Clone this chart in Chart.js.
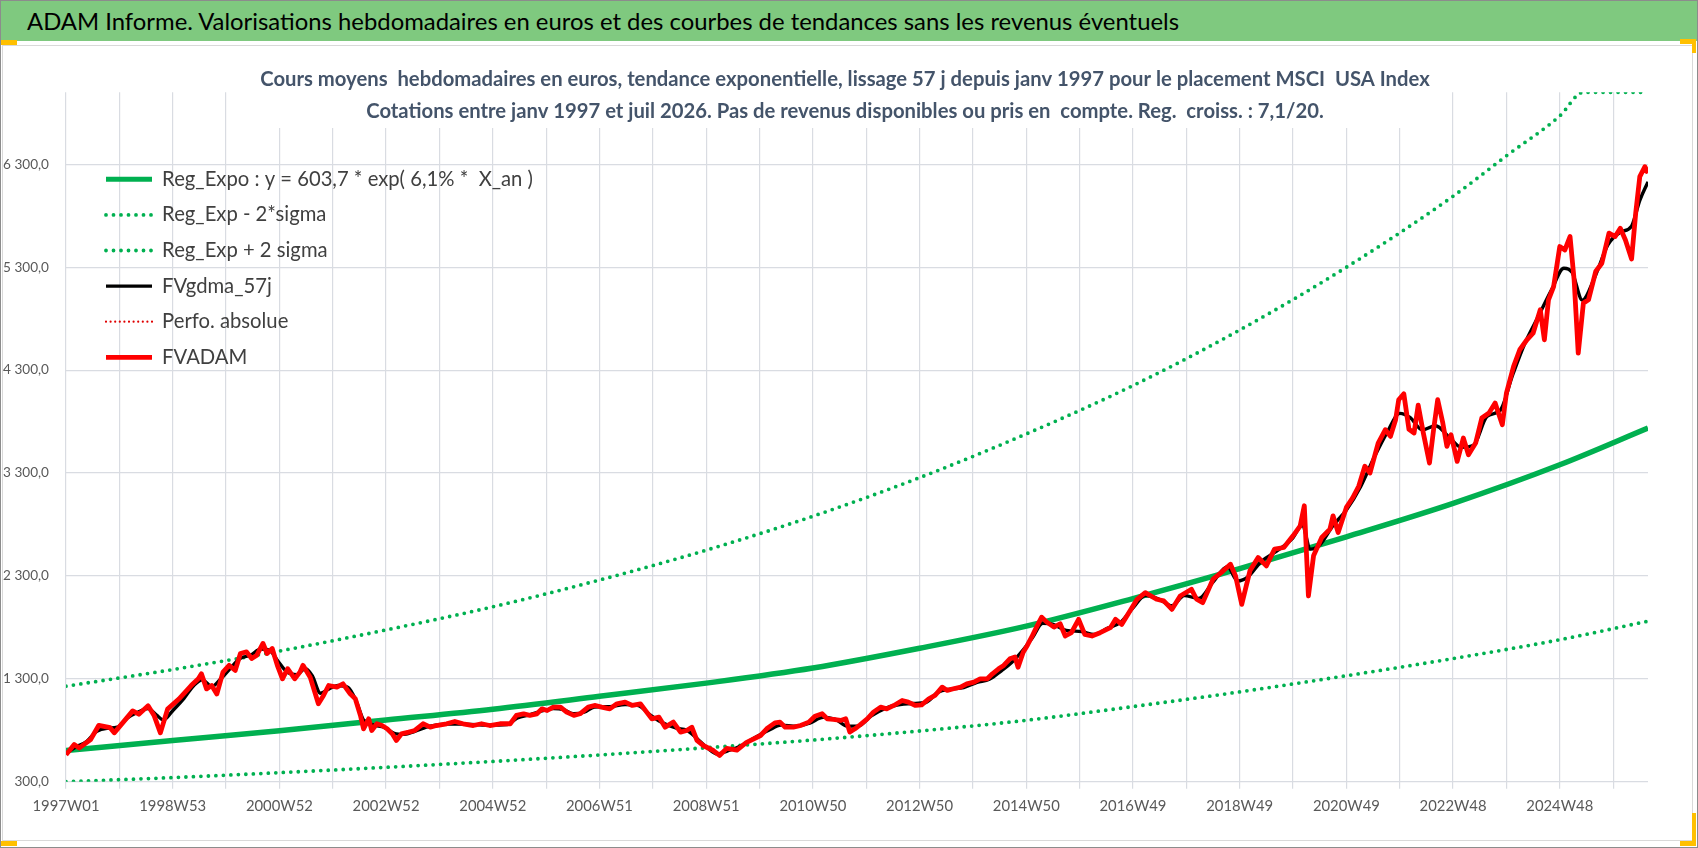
<!DOCTYPE html>
<html lang="fr">
<head>
<meta charset="utf-8">
<script src="https://cdn.jsdelivr.net/npm/chart.js@4.4.1/dist/chart.umd.min.js"></script>
<style>
html,body{margin:0;padding:0;background:#fff;}
#page{position:relative;width:1698px;height:848px;overflow:hidden;background:#fff;}
#outer{position:absolute;left:0;top:0;width:1696px;height:846px;border:1px solid #8c8c8c;pointer-events:none;}
#bar{position:absolute;left:1px;top:1px;width:1696px;height:40px;background:#7FC97F;}
#bartext{position:absolute;left:26px;top:0;height:40px;line-height:40px;font-family:Lato,"Open Sans",sans-serif;color:#000;white-space:pre;}
#chartframe{position:absolute;left:2px;top:45px;width:1689px;height:794px;border:1px solid #D9D9D9;}
canvas{position:absolute;left:0;top:0;}
.h{position:absolute;background:#FFC000;}
</style>
</head>
<body>
<div id="page">
  <div id="chartframe"></div>
  <canvas id="c" width="1698" height="848"></canvas>
  <div id="bar"><div id="bartext"></div></div>
  <div id="outer"></div>
  <div class="h" style="left:1px;top:40px;width:16px;height:5px;"></div>
  <div class="h" style="left:1680px;top:39px;width:16px;height:5px;"></div>
  <div class="h" style="left:1692px;top:39px;width:4px;height:14px;"></div>
  <div class="h" style="left:1px;top:841px;width:16px;height:5px;"></div>
  <div class="h" style="left:1680px;top:841px;width:16px;height:5px;"></div>
  <div class="h" style="left:1692px;top:813px;width:4px;height:33px;"></div>
</div>
<script>
// ---------------- DATA ----------------
const mainTitle = "ADAM Informe. Valorisations hebdomadaires en euros et des courbes de tendances sans les revenus éventuels";
const subtitleLines = [
  "Cours moyens  hebdomadaires en euros, tendance exponentielle, lissage 57 j depuis janv 1997 pour le placement MSCI  USA Index",
  "Cotations entre janv 1997 et juil 2026. Pas de revenus disponibles ou pris en  compte. Reg.  croiss. : 7,1/20."
];
const seriesNames = [
  "Reg_Expo : y = 603,7 * exp( 6,1% *  X_an )",
  "Reg_Exp - 2*sigma",
  "Reg_Exp + 2 sigma",
  "FVgdma_57j",
  "Perfo. absolue",
  "FVADAM"
];
// x axis: week index since 1997W01
const xTickLabels = ["1997W01","1998W53","2000W52","2002W52","2004W52","2006W51","2008W51","2010W50",
  "2012W50","2014W50","2016W49","2018W49","2020W49","2022W48","2024W48"];
const yTickValues = [300,1300,2300,3300,4300,5300,6300];
const yTickLabels = ["300,0","1 300,0","2 300,0","3 300,0","4 300,0","5 300,0","6 300,0"];

const trendWeeks = [0,104,208,312,416,520,624,728,832,936,1040,1144,1248,1352,1456,1542];
const regExpo = [603,700,795,900,1005,1130,1258,1405,1597,1812,2080,2370,2680,3005,3380,3737];
const regExpMinus2Sigma = [300,340,388,440,497,560,630,705,793,897,1030,1173,1330,1497,1680,1860];
const sigmaPlusWeeks = [0,104,208,312,416,520,624,728,832,936,1040,1144,1248,1352,1405,1456,1479,1542];
const regExpPlus2Sigma = [1228,1390,1570,1775,2000,2260,2550,2880,3255,3680,4150,4690,5300,5990,6390,6770,7000,7000];

const fvgdmaWeeks = [0,10,20,30,40,50,60,70,80,88,95,104,115,125,133,142,150,160,170,180,190,198,206,215,225,233,240,248,256,265,275,283,290,300,310,320,330,340,355,370,390,410,430,440,452,465,475,485,495,505,515,530,545,558,568,580,595,605,615,625,635,645,658,670,685,697,712,725,738,750,762,772,785,798,810,825,838,850,862,875,888,900,912,922,932,942,952,962,975,990,1002,1015,1028,1040,1052,1065,1078,1090,1104,1118,1132,1142,1152,1165,1180,1195,1205,1213,1222,1235,1248,1262,1275,1288,1300,1310,1322,1335,1348,1360,1372,1385,1398,1410,1422,1435,1448,1460,1468,1478,1490,1503,1515,1526,1534,1542];
const fvgdma = [575,640,690,790,820,830,920,975,1010,950,900,990,1110,1240,1290,1225,1290,1400,1500,1530,1590,1580,1480,1370,1340,1400,1330,1160,1200,1235,1215,1080,900,850,830,770,760,790,840,860,860,850,855,920,950,990,1010,1000,960,975,1025,1030,1050,1040,960,880,820,800,720,630,570,600,650,720,800,850,840,870,925,905,840,840,940,1010,1045,1060,1070,1170,1200,1215,1265,1295,1380,1460,1570,1700,1840,1830,1770,1760,1730,1790,1850,1990,2110,2075,2010,2110,2080,2240,2390,2250,2290,2440,2540,2660,2790,2560,2600,2790,2940,3170,3450,3700,3880,3840,3720,3760,3650,3550,3570,3850,3910,4250,4560,4820,5080,5290,5250,4980,5200,5520,5640,5700,5950,6130];

const perfoWeeks = [];
const perfoAbsolue = [];

const fvadamWeeks = [0,8,13,24,32,43,47,54,65,71,80,86,92,99,110,122,129,132,137,142,147,153,159,165,170,176,181,186,192,196,201,206,211,216,223,228,231,238,246,251,256,264,270,277,282,287,290,295,298,303,308,313,318,322,327,334,340,348,355,361,371,379,387,397,405,413,423,433,439,446,452,459,464,469,475,482,488,495,501,509,516,522,530,537,545,552,560,566,571,578,584,592,599,605,610,615,621,631,637,644,654,663,677,683,691,696,701,709,716,724,730,737,742,748,755,760,764,769,774,781,787,794,800,807,815,821,828,834,841,847,854,859,865,872,878,885,891,898,903,909,914,920,925,928,933,937,942,946,951,956,963,969,974,980,987,993,1000,1008,1018,1023,1029,1036,1044,1052,1063,1070,1078,1086,1097,1102,1108,1118,1126,1135,1140,1146,1154,1162,1170,1178,1187,1196,1203,1207,1211,1216,1224,1232,1235,1240,1248,1254,1260,1266,1271,1279,1286,1291,1296,1299,1304,1309,1314,1318,1323,1329,1333,1337,1342,1346,1350,1356,1362,1367,1374,1380,1387,1393,1400,1404,1411,1417,1424,1430,1437,1441,1445,1450,1456,1461,1466,1470,1474,1479,1484,1491,1497,1504,1510,1515,1520,1526,1530,1534,1539,1542];
const fvadam = [562,661,628,710,848,825,775,857,988,956,1038,940,775,1005,1103,1234,1300,1349,1202,1234,1152,1365,1431,1382,1546,1562,1497,1530,1644,1546,1595,1431,1300,1398,1300,1365,1431,1316,1057,1138,1235,1219,1251,1154,1106,944,814,911,798,863,846,814,765,701,765,782,798,863,830,846,863,885,863,846,863,846,863,863,944,960,944,960,1008,992,1025,1025,976,944,960,1025,1041,1025,1008,1057,1073,1041,1057,976,911,927,830,879,782,798,830,701,652,603,555,624,608,679,749,814,872,879,830,830,846,879,937,960,911,905,895,911,782,814,853,911,976,1025,1008,1041,1089,1073,1041,1047,1106,1138,1219,1187,1203,1219,1251,1268,1300,1300,1349,1397,1430,1494,1511,1413,1559,1624,1721,1802,1899,1851,1802,1835,1716,1748,1878,1732,1716,1748,1797,1878,1829,1943,2073,2138,2073,2057,1975,2105,2170,2073,2040,2268,2332,2414,2300,2024,2349,2479,2397,2560,2576,2690,2787,2982,2105,2495,2673,2755,2884,2722,2966,3057,3171,3365,3300,3591,3721,3656,3818,4012,4070,3725,3689,3960,3689,3397,3721,4012,3785,3559,3672,3413,3640,3478,3591,3834,3883,3980,3769,4077,4336,4498,4595,4659,4886,4595,4983,5112,5501,5468,5598,5177,4465,4951,4983,5258,5339,5631,5598,5679,5565,5380,5824,6180,6277,6213];

// ---------------- LAYOUT HELPERS ----------------
const FAMILY = "Lato, 'Open Sans', sans-serif";
function fitSize(text, weight, target, lo, hi) {
  const c = document.createElement('canvas').getContext('2d');
  c.font = weight + " 100px " + FAMILY;
  const s = 100 * target / c.measureText(text).width;
  return Math.max(lo, Math.min(hi, s));
}
const titleBarSize = fitSize(mainTitle, 400, 1153, 18, 30);
const subSize = fitSize(subtitleLines[0], 700, 1170, 15, 24);
const legendSize = fitSize(seriesNames[0], 400, 371, 15, 24);
const yTickSize = fitSize("6 300,0", 400, 46, 11, 19);
const xTickSize = fitSize("2024W48", 400, 67, 11, 19);

const bt = document.getElementById('bartext');
bt.textContent = mainTitle;
bt.style.fontSize = titleBarSize + 'px';

const CHART_TOP = 92.3, CHART_BOTTOM = 781.7, CHART_LEFT = 66, CHART_RIGHT = 1648;
const LEGEND_X = 106, LEGEND_ROW1 = 179.3, LEGEND_STEP = 35.6;
const gridWeeks = [];
for (let w = 0; w <= 1508; w += 52) gridWeeks.push(w);

const pts = (xs, ys) => xs.map((x, i) => ({x: x, y: ys[i]}));
const GRID = '#D9DCE2';

const tweaks = {
  id: 'tweaks',
  afterLayout(chart) {
    const lg = chart.legend;
    const pad = LEGEND_STEP - legendSize;
    lg.left = LEGEND_X - pad;
    lg.top = LEGEND_ROW1 - legendSize / 2 - pad;
    lg.right = chart.chartArea.right;
    lg.bottom = chart.chartArea.bottom;
    lg.width = lg.right - lg.left;
    lg.height = lg.bottom - lg.top;
    const tb = chart.titleBlock;
    tb.left = 0; tb.right = 1690; tb.width = 1690;
  },
  beforeDatasetsDraw(chart) {
    const ctx = chart.ctx;
    ctx.save();
    ctx.fillStyle = '#ffffff';
    ctx.fillRect(255, 58, 1185, 70);
    ctx.restore();
    chart.titleBlock.draw();
  }
};

function legendItems(chart) {
  const items = Chart.defaults.plugins.legend.labels.generateLabels(chart);
  items.forEach(it => {
    const ds = chart.data.datasets[it.datasetIndex];
    it.lineDash = ds.borderDash || [];
    it.lineCap = ds.borderCapStyle || 'butt';
    it.lineWidth = ds.legendWidth || ds.borderWidth;
    it.strokeStyle = ds.borderColor;
  });
  return items;
}

new Chart(document.getElementById('c'), {
  type: 'line',
  data: {
    datasets: [
      {label: seriesNames[0], data: pts(trendWeeks, regExpo), borderColor: '#00B050', backgroundColor: '#00B050',
        borderWidth: 5.5, legendWidth: 5, cubicInterpolationMode: 'monotone', order: 3},
      {label: seriesNames[1], data: pts(trendWeeks, regExpMinus2Sigma), borderColor: '#00B050', backgroundColor: '#00B050',
        borderWidth: 3.8, borderDash: [0, 7.5], borderCapStyle: 'round', cubicInterpolationMode: 'monotone', order: 4},
      {label: seriesNames[2], data: pts(sigmaPlusWeeks, regExpPlus2Sigma), borderColor: '#00B050', backgroundColor: '#00B050',
        borderWidth: 3.8, borderDash: [0, 7.5], borderCapStyle: 'round', cubicInterpolationMode: 'monotone', order: 4},
      {label: seriesNames[3], data: pts(fvgdmaWeeks, fvgdma), borderColor: '#000000', backgroundColor: '#000000',
        borderWidth: 3.4, cubicInterpolationMode: 'monotone', order: 2},
      {label: seriesNames[4], data: pts(perfoWeeks, perfoAbsolue), borderColor: '#E00000', backgroundColor: '#E00000',
        borderWidth: 2.2, borderDash: [0, 4.6], borderCapStyle: 'round', order: 1},
      {label: seriesNames[5], data: pts(fvadamWeeks, fvadam), borderColor: '#FF0000', backgroundColor: '#FF0000',
        borderWidth: 4.8, tension: 0, borderJoinStyle: 'round', order: 0}
    ]
  },
  options: {
    responsive: false,
    animation: false,
    events: [],
    layout: {padding: {top: 0, left: 0, right: 1698 - CHART_RIGHT, bottom: 0}},
    elements: {point: {radius: 0, hoverRadius: 0}},
    plugins: {
      tooltip: {enabled: false},
      title: {
        display: true, text: subtitleLines, color: '#44546A',
        font: {family: FAMILY, weight: 'bold', size: subSize, lineHeight: '32px'},
        padding: {top: 63, bottom: CHART_TOP - 64 - 63}
      },
      legend: {
        position: 'chartArea', align: 'start',
        labels: {
          usePointStyle: true, pointStyle: 'line', pointStyleWidth: 46,
          font: {family: FAMILY, size: legendSize}, color: '#404040',
          padding: LEGEND_STEP - legendSize,
          generateLabels: legendItems,
          sort: (a, b) => a.datasetIndex - b.datasetIndex
        }
      }
    },
    scales: {
      x: {
        type: 'linear', min: 0, max: 1542,
        afterBuildTicks: s => { s.ticks = gridWeeks.map(v => ({value: v})); },
        afterFit: s => { s.height = 848 - CHART_BOTTOM; },
        ticks: {
          autoSkip: false, maxRotation: 0, minRotation: 0, padding: 9,
          color: '#595959', font: {family: FAMILY, size: xTickSize},
          callback: (v, i) => (i % 2 === 0 ? (xTickLabels[i / 2] || '') : '')
        },
        grid: {color: GRID, lineWidth: 1.2, drawTicks: true, tickLength: 7, tickColor: GRID},
        border: {display: false}
      },
      y: {
        type: 'linear', min: 300, max: 7000,
        afterBuildTicks: s => { s.ticks = yTickValues.map(v => ({value: v})); },
        afterFit: s => { s.width = CHART_LEFT; },
        ticks: {
          padding: 17, color: '#595959', font: {family: FAMILY, size: yTickSize},
          callback: (v, i) => yTickLabels[i]
        },
        grid: {color: GRID, lineWidth: 1.2, drawTicks: false},
        border: {display: false}
      }
    }
  },
  plugins: [tweaks]
});
</script>
</body>
</html>
